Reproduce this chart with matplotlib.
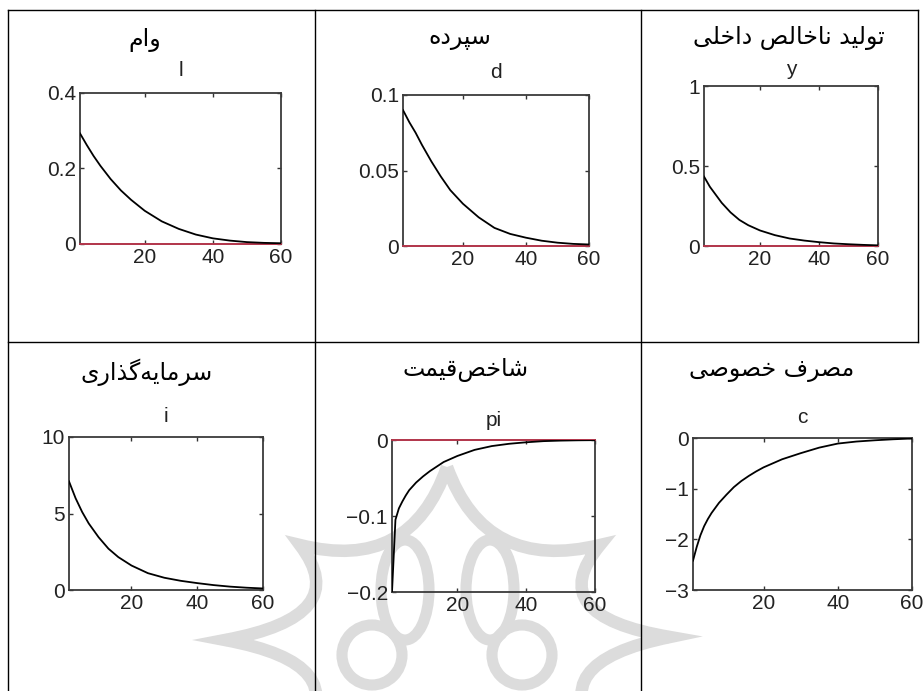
import matplotlib
matplotlib.use("Agg")
import matplotlib.pyplot as plt
from matplotlib.lines import Line2D
from matplotlib.patches import PathPatch, Ellipse
from matplotlib.path import Path
from matplotlib.ticker import FuncFormatter

# Persian titles of the six impulse responses (table order)
titles_fa = ["وام", "سپرده", "تولید ناخالص داخلی",
             "سرمایه\u200cگذاری", "شاخص\u200cقیمت", "مصرف خصوصی"]
var_names = ["l", "d", "y", "i", "pi", "c"]

# periods and responses
periods = [1, 3, 5, 7, 10, 13, 16, 20, 25, 30, 35, 40, 45, 50, 55, 60]
loan_l = [0.293, 0.262, 0.233, 0.207, 0.172, 0.142, 0.117, 0.088, 0.060, 0.040,
          0.025, 0.015, 0.009, 0.005, 0.003, 0.002]
deposit_d = [0.090, 0.082, 0.075, 0.067, 0.056, 0.046, 0.037, 0.028, 0.019, 0.012,
             0.008, 0.0055, 0.0035, 0.0022, 0.0014, 0.001]
gdp_y = [0.434, 0.37, 0.32, 0.27, 0.21, 0.163, 0.13, 0.097, 0.068, 0.047,
         0.034, 0.024, 0.016, 0.011, 0.007, 0.004]
invest_i = [7.1, 6.0, 5.1, 4.35, 3.45, 2.7, 2.15, 1.6, 1.1, 0.8,
            0.6, 0.45, 0.32, 0.22, 0.15, 0.1]

periods_b = [1, 2, 3, 4, 5, 6, 8, 10, 12, 14, 16, 18, 20, 25, 30, 35, 40, 45, 50, 55, 60]
price_pi = [-0.20, -0.105, -0.09, -0.081, -0.073, -0.066, -0.056, -0.048, -0.041, -0.035,
            -0.029, -0.025, -0.021, -0.013, -0.008, -0.005, -0.003, -0.0015, -0.0008,
            -0.0004, -0.0002]
consump_c = [-2.42, -2.15, -1.92, -1.74, -1.60, -1.48, -1.28, -1.12, -0.97, -0.85,
             -0.75, -0.66, -0.58, -0.42, -0.30, -0.19, -0.11, -0.07, -0.045, -0.025, -0.01]

series = [(periods, loan_l), (periods, deposit_d), (periods, gdp_y),
          (periods, invest_i), (periods_b, price_pi), (periods_b, consump_c)]
y_limits = [(0, 0.4), (0, 0.1), (0, 1), (0, 10), (-0.2, 0), (-3, 0)]
y_ticks = [[0, 0.2, 0.4], [0, 0.05, 0.1], [0, 0.5, 1], [0, 5, 10],
           [-0.2, -0.1, 0], [-3, -2, -1, 0]]
x_ticks = [20, 40, 60]
show_zero = [True, True, True, False, True, False]

# --- minimal Arabic/Persian shaping (matplotlib 3.10 has no text shaping) ---
FORMS = {
    "ا": "\uFE8D\uFE8E", "د": "\uFEA9\uFEAA", "ذ": "\uFEAB\uFEAC",
    "ر": "\uFEAD\uFEAE", "و": "\uFEED\uFEEE",
    "ت": "\uFE95\uFE96\uFE97\uFE98", "خ": "\uFEA5\uFEA6\uFEA7\uFEA8",
    "س": "\uFEB1\uFEB2\uFEB3\uFEB4", "ش": "\uFEB5\uFEB6\uFEB7\uFEB8",
    "ص": "\uFEB9\uFEBA\uFEBB\uFEBC", "ف": "\uFED1\uFED2\uFED3\uFED4",
    "ق": "\uFED5\uFED6\uFED7\uFED8", "ل": "\uFEDD\uFEDE\uFEDF\uFEE0",
    "م": "\uFEE1\uFEE2\uFEE3\uFEE4", "ن": "\uFEE5\uFEE6\uFEE7\uFEE8",
    "ه": "\uFEE9\uFEEA\uFEEB\uFEEC", "ی": "\uFBFC\uFBFD\uFBFE\uFBFF",
    "پ": "\uFB56\uFB57\uFB58\uFB59", "گ": "\uFB92\uFB93\uFB94\uFB95",
}


def shape(text):
    out = []
    for k, ch in enumerate(text):
        if ch not in FORMS:
            out.append(ch)
            continue
        f = FORMS[ch]
        prev = text[k - 1] if k > 0 else ""
        nxt = text[k + 1] if k + 1 < len(text) else ""
        jp = prev in FORMS and len(FORMS[prev]) == 4
        jn = len(f) == 4 and nxt in FORMS
        if jp and jn:
            out.append(f[3])
        elif jp:
            out.append(f[1])
        elif jn:
            out.append(f[2])
        else:
            out.append(f[0])
    return "".join(out)[::-1].replace("\u200c", "")


W, H = 923, 691
fig = plt.figure(figsize=(W / 100, H / 100), dpi=100)


def fx(x):
    return x / W


def fy(y):
    return 1 - y / H


def px_rect(x0, top, x1, bottom):
    return [fx(x0), fy(bottom), (x1 - x0) / W, (bottom - top) / H]


# faint watermark ornament behind the lower row (rough sketch of the logo)
wm = "#dcdcdc"
star = [(447, 467), (600, 545), (670, 637), (600, 735), (447, 810),
        (300, 735), (225, 640), (300, 545)]
cx, cy = 447, 640
verts, codes = [], []
for k in range(len(star)):
    x0, y0 = star[k]
    x1, y1 = star[(k + 1) % len(star)]
    mx, my = (x0 + x1) / 2, (y0 + y1) / 2
    ctl = (cx + 0.5 * (mx - cx), cy + 0.5 * (my - cy))
    if k == 0:
        verts.append((fx(x0), fy(y0)))
        codes.append(Path.MOVETO)
    verts += [(fx(ctl[0]), fy(ctl[1])), (fx(x1), fy(y1))]
    codes += [Path.CURVE3, Path.CURVE3]
fig.add_artist(PathPatch(Path(verts, codes), fill=False, ec=wm, lw=9,
                         transform=fig.transFigure, zorder=-2))
for ex in (405, 490):
    fig.add_artist(Ellipse((fx(ex), fy(590)), 48 / W, 100 / H, fill=False,
                           ec=wm, lw=8, transform=fig.transFigure, zorder=-2))
for ex in (372, 522):
    fig.add_artist(Ellipse((fx(ex), fy(655)), 60 / W, 60 / H, fill=False,
                           ec=wm, lw=8, transform=fig.transFigure, zorder=-2))

# axes boxes in pixels (left, top, right, bottom)
boxes = [(80, 93, 281, 244), (403, 95, 589, 246), (704, 86, 878, 246),
         (69, 437, 263, 590), (392, 440, 595, 592), (693, 438, 912, 590)]
title_pads = [12, 12, 8, 11, 10, 11]
fa_pos = [(145, 40), (460, 38), (789, 38), (147, 372), (466, 370), (772, 370)]

fmt = FuncFormatter(lambda v, p: ("%g" % v).replace("-", "\u2212"))

for k in range(6):
    ax = fig.add_axes(px_rect(*boxes[k]))
    ax.set_facecolor("none")
    xs, ys = series[k]
    if show_zero[k]:
        ax.axhline(0, color="#c8364f", lw=1.2, zorder=3, clip_on=False)
    ax.plot(xs, ys, color="black", lw=1.3, zorder=4)
    ax.set_xlim(1, 60)
    ax.set_ylim(*y_limits[k])
    ax.set_xticks(x_ticks)
    ax.set_yticks(y_ticks[k])
    ax.yaxis.set_major_formatter(fmt)
    ax.tick_params(direction="in", length=3, width=1, top=True, right=True,
                   labelsize=15, pad=3, colors="#333333")
    for lab in ax.get_xticklabels() + ax.get_yticklabels():
        lab.set_family("Liberation Sans")
        lab.set_color("#222222")
    for sp in ax.spines.values():
        sp.set_color("#3a3a3a")
        sp.set_linewidth(1.3)
    ax.set_title(var_names[k], fontsize=15, family="Liberation Sans",
                 pad=title_pads[k], color="#222222")
    tx, ty = fa_pos[k]
    fig.text(fx(tx), fy(ty), shape(titles_fa[k]), ha="center", va="center",
             fontsize=17, family=["DejaVu Sans"])


# table grid lines
def hline(y, x0, x1):
    fig.add_artist(Line2D([fx(x0), fx(x1)], [fy(y), fy(y)], color="black", lw=1.0))


def vline(x, y0, y1):
    fig.add_artist(Line2D([fx(x), fx(x)], [fy(y0), fy(y1)], color="black", lw=1.0))


hline(10, 8, 918)
hline(342, 8, 918)
vline(8, 10, H)
vline(315, 10, H)
vline(641, 10, H)
vline(918, 10, 342)

fig.savefig("out.png", dpi=100)
